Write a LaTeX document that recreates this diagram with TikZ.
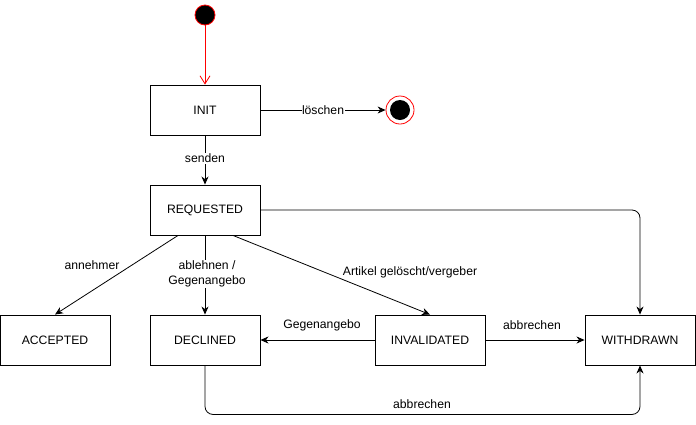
\documentclass[tikz,border=0pt]{standalone}
\usepackage{fontspec}
\setmainfont{Liberation Sans}
\usetikzlibrary{arrows.meta}
\begin{document}
\begin{tikzpicture}[x=1pt,y=-1pt,
  state/.style={draw,line width=0.9pt,minimum width=110pt,minimum height=50pt,inner sep=0pt,font=\fontsize{12.2}{14}\selectfont},
  conn/.style={draw,line width=0.8pt,-{Stealth[length=8pt,width=7pt,inset=2.5pt]}},
  lbl/.style={font=\fontsize{12.2}{14.5}\selectfont,fill=white,inner sep=1pt}
]
\useasboundingbox (0,0) rectangle (696,424);
\node[circle,draw=red,fill=black,minimum size=20pt,inner sep=0pt,line width=0.8pt] (start) at (205,15) {};
\node[state] (init) at (205,110) {INIT};
\node[circle,draw=red,fill=white,minimum size=28pt,inner sep=0pt,line width=0.8pt] (final) at (400,110) {};
\node[circle,fill=black,minimum size=20pt,inner sep=0pt] (finalin) at (400,110) {};
\node[state] (req) at (205,210) {REQUESTED};
\node[state] (acc) at (55,340) {ACCEPTED};
\node[state] (dec) at (205,340) {DECLINED};
\node[state] (inv) at (430,340) {INVALIDATED};
\node[state] (wd) at (640,340) {WITHDRAWN};

\draw[red,line width=0.8pt,-{Straight Barb[length=8pt,width=10pt]}] (start) -- (init);
\draw[conn] (init) -- node[lbl,pos=0.5,inner sep=0.5pt] {löschen} (final);
\draw[conn] (init) -- node[lbl,pos=0.46] {senden} (req);
\draw[conn] (req.south) ++(-27,0) coordinate (ra) -- (acc.north);
\node[lbl,fill=none] at (92,265) {annehmer};
\draw[conn] (req) -- (dec);
\node[lbl,align=center] at (207,274) {ablehnen /\\Gegenangebo};
\draw[conn] (req.south) ++(28,0) coordinate (rb) -- (inv.north);
\node[lbl,fill=none] at (410,272) {Artikel gelöscht/vergeber};
\draw[conn,rounded corners=8pt] (req.east) -| (wd.north);
\draw[conn] (inv) -- (dec);
\node[lbl,fill=none] at (322,325) {Gegenangebo};
\draw[conn] (inv) -- (wd);
\node[lbl,fill=none] at (532,325) {abbrechen};
\draw[conn,rounded corners=8pt] (dec.south) -- ++(0,49) coordinate (dc) -| (wd.south);
\node[lbl,fill=none] at (422,404) {abbrechen};
\end{tikzpicture}
\end{document}
